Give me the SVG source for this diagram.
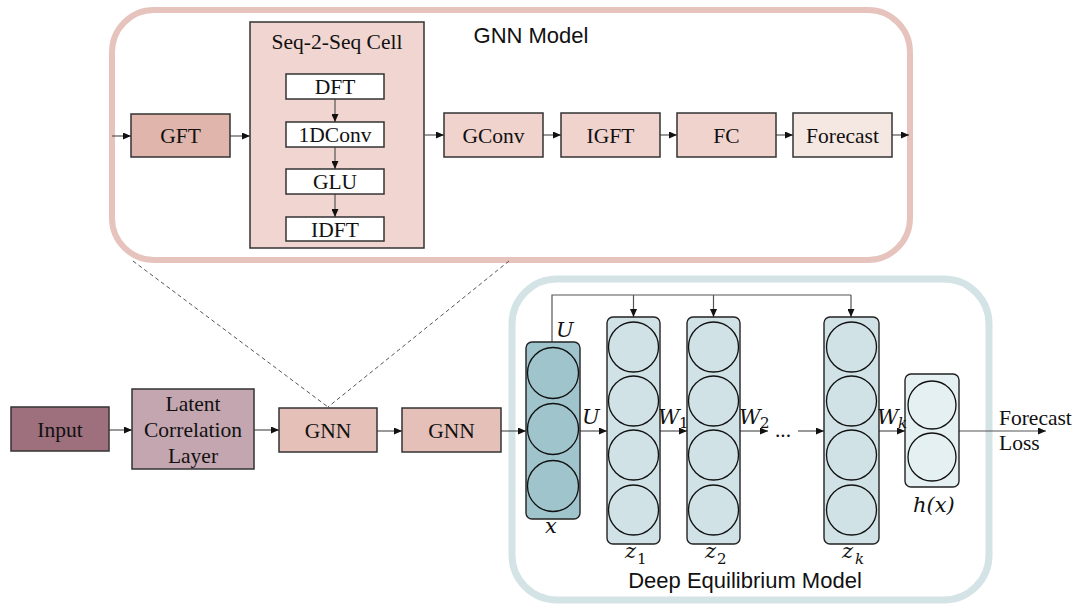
<svg xmlns="http://www.w3.org/2000/svg" width="1078" height="608" viewBox="0 0 1078 608">
  <style>
    .frame-gnn { fill: none; stroke: #e7c3be; stroke-width: 6; }
    .frame-deq { fill: none; stroke: #d3e3e6; stroke-width: 7; }
    .box { stroke: #333; stroke-width: 1.5; }
    .layer { stroke: #222; stroke-width: 1.4; }
    .neuron { fill: none; stroke: #111; stroke-width: 1.3; }
    .lbl { font-family: "Liberation Serif", "Times New Roman", serif; font-size: 21.5px; fill: #111; text-anchor: middle; }
    .title { font-family: "Liberation Sans", Arial, sans-serif; font-size: 22px; fill: #111; text-anchor: middle; }
    .math { font-family: "DejaVu Serif", "Liberation Serif", serif; font-style: italic; font-size: 21px; fill: #111; }
    .sub { font-family: "DejaVu Serif", "Liberation Serif", serif; font-size: 15px; fill: #111; }
    .wire { fill: none; stroke: #555; stroke-width: 1.2; }
    .dash { fill: none; stroke: #555; stroke-width: 1; stroke-dasharray: 4 3; }
  </style>
  <defs>
    <marker id="arrow" viewBox="0 0 8 7" refX="8" refY="3.5" markerWidth="8" markerHeight="7" markerUnits="userSpaceOnUse" orient="auto">
      <path d="M0,0 L8,3.5 L0,7 z" fill="#111"/>
    </marker>
  </defs>

  <!-- GNN model frame -->
  <g id="gnn-model">
    <rect class="frame-gnn" x="112" y="10" width="798" height="250" rx="42"/>
    <text class="title" x="531" y="43">GNN Model</text>
  </g>

  <!-- deep equilibrium model frame -->
  <g id="deq-model">
    <rect class="frame-deq" x="512" y="279" width="477" height="321" rx="45"/>
    <text class="title" x="745" y="588">Deep Equilibrium Model</text>
  </g>

  <!-- container of the sequence cell, drawn under its inner arrows -->
  <g id="seq2seq">
    <rect class="box" x="250" y="22" width="174" height="226" fill="#f1d5d0"/>
    <text class="lbl" x="337" y="49">Seq-2-Seq Cell</text>
  </g>

  <!-- connectors -->
  <g id="connectors">
    <line class="wire" x1="112" y1="136" x2="131" y2="136" marker-end="url(#arrow)"/>
    <line class="wire" x1="230" y1="136" x2="250" y2="136" marker-end="url(#arrow)"/>
    <line class="wire" x1="335" y1="99" x2="335" y2="122" marker-end="url(#arrow)"/>
    <line class="wire" x1="335" y1="147" x2="335" y2="169" marker-end="url(#arrow)"/>
    <line class="wire" x1="335" y1="194" x2="335" y2="217" marker-end="url(#arrow)"/>
    <line class="wire" x1="424" y1="135" x2="444" y2="135" marker-end="url(#arrow)"/>
    <line class="wire" x1="543" y1="135" x2="561" y2="135" marker-end="url(#arrow)"/>
    <line class="wire" x1="660" y1="135" x2="677" y2="135" marker-end="url(#arrow)"/>
    <line class="wire" x1="776" y1="135" x2="793" y2="135" marker-end="url(#arrow)"/>
    <line class="wire" x1="892" y1="135" x2="909" y2="135" marker-end="url(#arrow)"/>

    <line class="dash" x1="133" y1="261" x2="328" y2="407"/>
    <line class="dash" x1="509" y1="261" x2="328" y2="407"/>

    <line class="wire" x1="109" y1="430" x2="132" y2="430" marker-end="url(#arrow)"/>
    <line class="wire" x1="254" y1="430" x2="279" y2="430" marker-end="url(#arrow)"/>
    <line class="wire" x1="377" y1="431" x2="402" y2="431" marker-end="url(#arrow)"/>
    <line class="wire" x1="501" y1="431" x2="526" y2="431" marker-end="url(#arrow)"/>

    <line class="wire" x1="580" y1="431" x2="607" y2="431" marker-end="url(#arrow)"/>
    <line class="wire" x1="660" y1="431" x2="687" y2="431" marker-end="url(#arrow)"/>
    <line class="wire" x1="740" y1="431" x2="768" y2="431" marker-end="url(#arrow)"/>
    <line class="wire" x1="798" y1="431" x2="824" y2="431" marker-end="url(#arrow)"/>
    <line class="wire" x1="879" y1="431" x2="905" y2="431" marker-end="url(#arrow)"/>
    <line class="wire" x1="959" y1="431" x2="1046" y2="431" marker-end="url(#arrow)"/>

    <polyline class="wire" points="552,342 552,295 851,295"/>
    <line class="wire" x1="633.5" y1="295" x2="633.5" y2="317" marker-end="url(#arrow)"/>
    <line class="wire" x1="713.5" y1="295" x2="713.5" y2="317" marker-end="url(#arrow)"/>
    <line class="wire" x1="851" y1="295" x2="851" y2="317" marker-end="url(#arrow)"/>
  </g>

  <g id="gft">
    <rect class="box" x="131" y="114" width="99" height="43" fill="#e0b5ac"/>
    <text class="lbl" x="180.5" y="143">GFT</text>
  </g>
  <g id="dft">
    <rect class="box" x="286" y="74" width="98" height="25" fill="#ffffff"/>
    <text class="lbl" x="335" y="94">DFT</text>
  </g>
  <g id="conv1d">
    <rect class="box" x="286" y="122" width="98" height="25" fill="#ffffff"/>
    <text class="lbl" x="335" y="142">1DConv</text>
  </g>
  <g id="glu">
    <rect class="box" x="286" y="169" width="98" height="25" fill="#ffffff"/>
    <text class="lbl" x="335" y="189">GLU</text>
  </g>
  <g id="idft">
    <rect class="box" x="286" y="217" width="98" height="24" fill="#ffffff"/>
    <text class="lbl" x="335" y="237">IDFT</text>
  </g>

  <g id="gconv">
    <rect class="box" x="444" y="113" width="99" height="44" fill="#f0d3cd"/>
    <text class="lbl" x="493.5" y="143">GConv</text>
  </g>
  <g id="igft">
    <rect class="box" x="561" y="113" width="99" height="44" fill="#f0d3cd"/>
    <text class="lbl" x="610.5" y="143">IGFT</text>
  </g>
  <g id="fc">
    <rect class="box" x="677" y="113" width="99" height="44" fill="#f0d3cd"/>
    <text class="lbl" x="726.5" y="143">FC</text>
  </g>
  <g id="forecast">
    <rect class="box" x="793" y="113" width="99" height="44" fill="#f5e7e1"/>
    <text class="lbl" x="842.5" y="143">Forecast</text>
  </g>

  <!-- main pipeline -->
  <g id="input">
    <rect class="box" x="11" y="407" width="98" height="44" fill="#9e6f7c"/>
    <text class="lbl" x="60" y="437">Input</text>
  </g>
  <g id="latent">
    <rect class="box" x="132" y="389" width="122" height="80" fill="#c3a6b0"/>
    <text class="lbl" x="193" y="411">Latent</text>
    <text class="lbl" x="193" y="437">Correlation</text>
    <text class="lbl" x="193" y="463">Layer</text>
  </g>
  <g id="gnn1">
    <rect class="box" x="279" y="408" width="98" height="44" fill="#e5c0b8"/>
    <text class="lbl" x="328" y="438">GNN</text>
  </g>
  <g id="gnn2">
    <rect class="box" x="402" y="408" width="99" height="44" fill="#e5c0b8"/>
    <text class="lbl" x="451.5" y="438">GNN</text>
  </g>

  <g id="layer-x">
    <rect class="layer" x="526" y="342" width="54" height="177" rx="6" fill="#9fc4cc"/>
    <circle class="neuron" cx="553" cy="373" r="25.5"/>
    <circle class="neuron" cx="553" cy="429" r="25.5"/>
    <circle class="neuron" cx="553" cy="486" r="25.5"/>
    <text class="math" x="545" y="533">x</text>
  </g>
  <g id="layer-z1">
    <rect class="layer" x="607" y="317" width="53" height="227" rx="6" fill="#d0e2e6"/>
    <circle class="neuron" cx="633.5" cy="347" r="25"/>
    <circle class="neuron" cx="633.5" cy="401" r="25"/>
    <circle class="neuron" cx="633.5" cy="455" r="25"/>
    <circle class="neuron" cx="633.5" cy="510" r="25"/>
    <text class="math" x="625" y="558">z</text><text class="sub" x="637" y="564">1</text>
  </g>
  <g id="layer-z2">
    <rect class="layer" x="687" y="317" width="53" height="227" rx="6" fill="#d0e2e6"/>
    <circle class="neuron" cx="713.5" cy="347" r="25"/>
    <circle class="neuron" cx="713.5" cy="401" r="25"/>
    <circle class="neuron" cx="713.5" cy="455" r="25"/>
    <circle class="neuron" cx="713.5" cy="510" r="25"/>
    <text class="math" x="705" y="558">z</text><text class="sub" x="717" y="564">2</text>
  </g>
  <g id="layer-zk">
    <rect class="layer" x="824" y="317" width="55" height="227" rx="6" fill="#d0e2e6"/>
    <circle class="neuron" cx="851.5" cy="347" r="25"/>
    <circle class="neuron" cx="851.5" cy="401" r="25"/>
    <circle class="neuron" cx="851.5" cy="455" r="25"/>
    <circle class="neuron" cx="851.5" cy="510" r="25"/>
    <text class="math" x="842" y="558">z</text><text class="sub" x="855" y="564" font-style="italic">k</text>
  </g>
  <g id="layer-h">
    <rect class="layer" x="905" y="374" width="54" height="113" rx="6" fill="#e5f0f2"/>
    <circle class="neuron" cx="932" cy="405" r="24"/>
    <circle class="neuron" cx="932" cy="457" r="24"/>
    <text class="math" x="913" y="512">h(x)</text>
  </g>

  <!-- weight labels -->
  <g id="weight-labels">
    <text class="math" x="556" y="337">U</text>
    <text class="math" x="582" y="424">U</text>
    <text class="math" x="658" y="424">W</text><text class="sub" x="679" y="428">1</text>
    <text class="math" x="739" y="424">W</text><text class="sub" x="760" y="428">2</text>
    <text class="math" x="877" y="424">W</text><text class="sub" x="898" y="428" font-style="italic">k</text>
    <text class="lbl" x="783" y="437">...</text>
    <text class="lbl" x="999" y="425" style="text-anchor:start">Forecast</text>
    <text class="lbl" x="999" y="450" style="text-anchor:start">Loss</text>
  </g>
</svg>
